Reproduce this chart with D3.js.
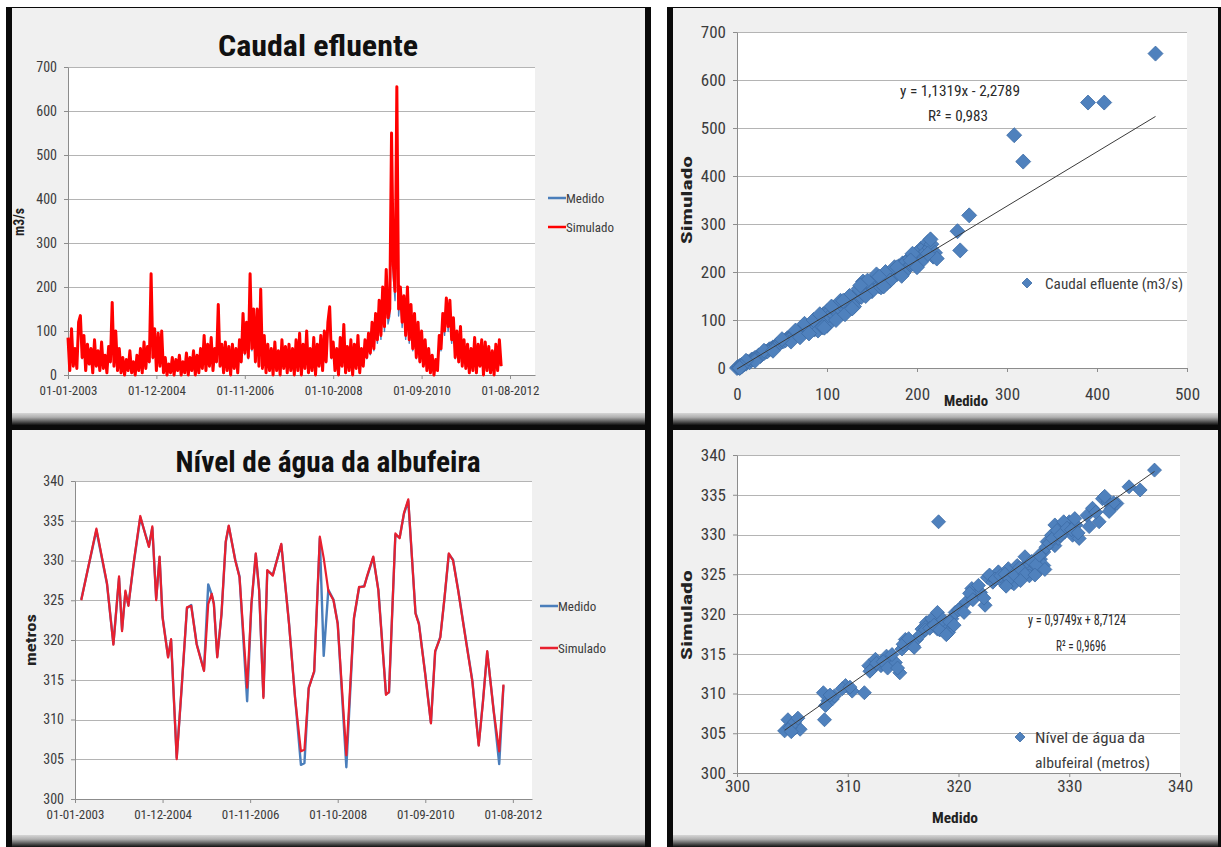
<!DOCTYPE html>
<html>
<head>
<meta charset="utf-8">
<script src="https://cdn.jsdelivr.net/npm/d3@7"></script>
<style>
  html, body { margin: 0; padding: 0; background: #ffffff; }
  svg { display: block; }
</style>
</head>
<body>
<svg id="fig" width="1221" height="847"></svg>
<script>
// ---------- Caudal efluente: série temporal (passo de 14 dias desde 01-01-2003) ----------
const caudalInicio = "2003-01-01";
const caudalPassoDias = 14;
const caudalSimulado = [
  85, 10, 105, 20, 60, 15, 120, 135, 40, 90,
  10, 70, 25, 60, 5, 80, 20, 55, 10, 75,
  15, 45, 5, 65, 30, 165, 20, 100, 10, 60,
  5, 40, 0, 35, 10, 55, 5, 30, 0, 45,
  10, 60, 5, 75, 15, 65, 30, 230, 40, 105,
  10, 95, 20, 100, 5, 40, 0, 25, 5, 40,
  0, 35, 10, 45, 0, 30, 5, 50, 0, 40,
  10, 55, 0, 45, 5, 60, 15, 90, 10, 70,
  20, 85, 10, 60, 30, 160, 20, 70, 5, 75,
  10, 65, 0, 70, 15, 60, 5, 80, 30, 140,
  50, 120, 40, 230, 60, 150, 30, 150, 20, 195,
  15, 90, 5, 70, 10, 60, 0, 75, 10, 55,
  0, 80, 15, 65, 5, 70, 10, 60, 0, 80,
  10, 95, 0, 70, 15, 100, 5, 60, 10, 85,
  0, 70, 20, 90, 10, 100, 30, 120, 155, 40,
  75, 10, 60, 0, 85, 20, 115, 5, 65, 10,
  80, 0, 70, 15, 90, 5, 60, 20, 80, 40,
  95, 50, 120, 60, 140, 80, 170, 90, 200, 110,
  240, 130, 150, 550, 250, 190, 655, 150, 200, 120,
  180, 90, 200, 80, 160, 60, 140, 40, 120, 30,
  100, 20, 80, 10, 60, 5, 45, 0, 35, 10,
  90, 60, 140, 100, 175, 110, 170, 80, 130, 40,
  100, 30, 110, 20, 80, 15, 70, 5, 60, 10,
  85, 5, 70, 20, 80, 0, 75, 10, 65, 5,
  55, 0, 70, 10, 80, 20
];
const caudalMedido = [
  77, 11, 95, 20, 55, 15, 108, 121, 37, 81,
  11, 64, 24, 55, 6, 72, 20, 50, 11, 68,
  15, 42, 6, 59, 28, 148, 20, 90, 11, 55,
  6, 37, 1, 33, 11, 50, 6, 28, 1, 42,
  11, 55, 6, 68, 15, 59, 28, 205, 37, 94,
  11, 86, 20, 90, 6, 37, 1, 24, 6, 37,
  1, 33, 11, 42, 1, 28, 6, 46, 1, 37,
  11, 50, 1, 42, 6, 55, 15, 81, 11, 64,
  20, 77, 11, 55, 28, 143, 20, 64, 6, 68,
  11, 59, 1, 64, 15, 55, 6, 72, 28, 125,
  46, 108, 37, 205, 55, 134, 28, 134, 20, 174,
  15, 81, 6, 64, 11, 55, 1, 68, 11, 50,
  1, 72, 15, 59, 6, 64, 11, 55, 1, 72,
  11, 86, 1, 64, 15, 90, 6, 55, 11, 77,
  1, 64, 20, 81, 11, 90, 28, 108, 138, 37,
  68, 11, 55, 1, 77, 20, 103, 6, 59, 11,
  72, 1, 64, 15, 81, 6, 55, 20, 72, 37,
  86, 46, 108, 55, 125, 72, 152, 81, 178, 99,
  213, 116, 134, 390, 222, 169, 465, 134, 178, 108,
  160, 81, 178, 72, 143, 55, 125, 37, 108, 28,
  90, 20, 72, 11, 55, 6, 42, 1, 33, 11,
  81, 55, 125, 90, 156, 99, 152, 72, 116, 37,
  90, 28, 99, 20, 72, 15, 64, 6, 55, 11,
  77, 6, 64, 20, 72, 1, 68, 11, 59, 6,
  50, 1, 64, 11, 72, 20
];

// ---------- Nível de água da albufeira: série temporal ----------
const nivelDatas = [
  "2003-02-20", "2003-06-21", "2003-09-14", "2003-11-04", "2003-12-19", "2004-01-12", "2004-02-08", "2004-03-03",
  "2004-04-13", "2004-06-06", "2004-07-17", "2004-08-14", "2004-09-10", "2004-10-11", "2004-11-07", "2004-12-01",
  "2005-01-14", "2005-02-07", "2005-03-24", "2005-05-04", "2005-06-14", "2005-07-18", "2005-08-31", "2005-10-28",
  "2005-12-01", "2005-12-29", "2006-01-15", "2006-02-11", "2006-03-17", "2006-04-20", "2006-05-14", "2006-07-05",
  "2006-08-08", "2006-10-08", "2006-11-11", "2006-12-16", "2007-01-12", "2007-02-15", "2007-03-18", "2007-05-01",
  "2007-07-08", "2007-09-08", "2007-10-26", "2007-12-12", "2008-01-09", "2008-02-12", "2008-03-27", "2008-05-11",
  "2008-06-11", "2008-07-18", "2008-08-28", "2008-10-01", "2008-12-09", "2009-02-08", "2009-03-21", "2009-05-01",
  "2009-05-21", "2009-07-12", "2009-08-22", "2009-10-22", "2009-11-15", "2010-01-05", "2010-02-08", "2010-03-15",
  "2010-04-18", "2010-06-15", "2010-07-12", "2010-09-01", "2010-10-16", "2010-11-19", "2010-12-30", "2011-02-02",
  "2011-03-08", "2011-04-11", "2011-05-22", "2011-07-23", "2011-09-12", "2011-11-02", "2011-12-06", "2012-01-09",
  "2012-03-01", "2012-04-14", "2012-05-18"
];
const nivelSimulado = [
  325.0, 334.0, 327.1, 319.4, 328.0, 321.1, 326.2, 324.3,
  329.6, 335.6, 333.2, 331.7, 334.3, 325.0, 330.5, 322.8,
  317.8, 320.1, 305.0, 314.4, 324.1, 324.3, 319.4, 316.1,
  324.5, 325.8, 324.5, 317.8, 323.3, 332.4, 334.4, 330.0,
  327.9, 314.0, 324.5, 330.9, 326.2, 312.7, 328.8, 328.1,
  332.1, 322.0, 312.7, 306.0, 306.2, 313.9, 316.1, 333.0,
  330.3, 326.2, 325.0, 322.0, 305.5, 322.8, 326.7, 326.7,
  327.9, 330.5, 326.2, 313.1, 313.5, 333.4, 332.8, 336.0,
  337.7, 323.3, 322.0, 315.6, 309.5, 318.6, 320.3, 325.4,
  330.9, 330.0, 326.2, 319.9, 314.8, 306.7, 312.2, 318.6,
  311.0, 306.0, 314.4
];
const nivelMedido = [
  325.1, 333.8, 327.0, 319.5, 327.8, 321.3, 326.0, 324.4,
  329.5, 335.4, 333.3, 331.8, 334.1, 325.2, 330.4, 322.9,
  317.9, 320.0, 305.2, 314.3, 324.0, 324.4, 319.5, 316.2,
  327.0, 325.7, 324.6, 317.9, 323.2, 332.3, 334.3, 330.1,
  328.0, 312.3, 324.4, 330.8, 326.3, 312.9, 328.7, 328.2,
  332.0, 322.1, 312.8, 304.3, 304.5, 314.0, 316.0, 332.8,
  318.0, 326.3, 325.1, 322.1, 304.0, 322.7, 326.6, 326.8,
  327.8, 330.4, 326.3, 313.2, 313.4, 333.2, 332.9, 335.9,
  337.5, 323.4, 322.1, 315.7, 309.6, 318.5, 320.4, 325.3,
  330.8, 330.1, 326.3, 320.0, 314.9, 306.8, 312.3, 318.5,
  311.1, 304.4, 314.3
];

// ---------- Dispersão: caudal efluente medido vs simulado (m3/s) ----------
const dispCaudalMedido = [
  0, 1, 2, 3, 4, 5, 6, 8, 10, 12, 14, 16, 18, 20, 22, 24, 26, 28, 30, 32,
  34, 36, 38, 40, 42, 44, 46, 48, 50, 52, 54, 56, 58, 60, 62, 64, 66, 68, 70, 72,
  74, 76, 78, 80, 82, 84, 86, 88, 90, 90, 92, 94, 96, 98, 100, 100, 102, 104, 106, 108,
  110, 112, 114, 116, 118, 120, 122, 124, 126, 128, 130, 132, 134, 136, 138, 140, 142, 144, 146, 148,
  150, 152, 154, 156, 158, 160, 162, 164, 166, 168, 170, 172, 174, 176, 178, 180, 182, 184, 186, 188,
  190, 192, 194, 196, 198, 200, 202, 204, 206, 208, 210, 212, 214, 216, 218, 220, 222,
  60, 65, 70, 75, 80, 85, 95, 105, 110, 115, 120, 125, 130, 135, 140, 145, 150, 155, 160, 165,
  170, 175, 185, 195, 205, 215, 212, 20, 30, 40, 50, 10, 5, 3,
  92, 97, 118, 128, 137, 143, 158, 163, 178, 183, 193, 200,
  245, 248, 258, 308, 318, 390, 408, 465
];
const dispCaudalSimulado = [
  0, 2, 1, 4, 2, 6, 5, 8, 9, 13, 12, 17, 18, 21, 22, 26, 25, 30, 31, 34,
  35, 39, 40, 43, 44, 48, 50, 52, 55, 56, 58, 62, 63, 66, 67, 70, 74, 72, 79, 78,
  80, 86, 83, 88, 92, 90, 80, 98, 100, 78, 104, 96, 112, 104, 118, 88, 110, 120, 114, 126,
  118, 130, 124, 136, 128, 140, 132, 144, 138, 146, 140, 150, 144, 160, 148, 170, 162, 176, 158, 172,
  180, 166, 178, 184, 170, 188, 180, 192, 176, 196, 188, 200, 190, 206, 196, 212, 200, 218, 204, 222,
  210, 228, 216, 234, 220, 240, 228, 248, 236, 252, 242, 262, 250, 258, 232, 240, 228,
  55, 78, 64, 92, 72, 100, 85, 128, 100, 140, 112, 150, 128, 165, 180, 182, 160, 195, 168, 200,
  182, 210, 198, 238, 222, 268, 238, 15, 36, 36, 60, 15, 3, 0,
  112, 84, 140, 124, 172, 150, 190, 170, 210, 192, 224, 210,
  285, 245, 318, 485, 430, 553, 553, 655
];
const regCaudal = { declive: 1.1319, ordenada: -2.2789, r2: "0,983" };

// ---------- Dispersão: nível de água medido vs simulado (metros) ----------
const dispNivelMedido = [
  304.3, 304.6, 305.0, 305.3, 305.7, 304.8, 307.8, 307.9, 308.2, 308.6,
  308.8, 309.8, 310.4, 311.5, 311.9, 312.2, 312.5, 313.0, 313.5, 313.8,
  314.3, 314.7, 314.9, 315.2, 315.9, 316.2, 316.7, 317.1, 317.6, 318.1,
  318.2, 318.4, 318.8, 319.1, 319.4, 319.7, 320.2, 320.7, 321.2, 321.5,
  322.0, 322.4, 322.6, 323.1, 323.6, 324.0, 324.5, 324.8, 325.3, 325.8,
  326.3, 326.8, 327.1, 327.4, 327.7, 328.0, 328.4, 328.7, 329.0, 329.3,
  329.6, 330.0, 330.3, 330.6, 330.9, 331.6, 332.1, 332.7, 333.0, 333.5,
  333.8, 334.3, 335.4, 336.4, 337.7, 327.7, 326.4, 328.7, 318.1, 325.0,
  326.0, 329.8, 317.0,
  305.2, 304.9, 305.5, 308.0, 308.4, 309.5, 310.2, 312.0, 312.6, 313.2,
  313.6, 314.0, 314.5, 315.0, 315.5, 316.0, 316.5, 317.0, 317.4, 317.8,
  318.3, 318.6, 318.9, 319.2, 319.6, 320.0, 320.5, 321.0, 321.3, 321.8,
  322.3, 322.8, 323.3, 323.8, 324.2, 324.6, 325.0, 325.5, 326.0, 326.6,
  327.0, 327.3, 327.9, 328.2, 328.5, 328.9, 329.2, 329.5, 329.8, 330.2,
  330.5, 330.8, 331.8, 332.4, 333.2, 334.0, 333.6, 327.8, 326.9, 325.6,
  324.3
];
const dispNivelSimulado = [
  305.3, 306.7, 306.1, 305.7, 305.5, 305.7, 310.1, 306.7, 309.1, 309.3,
  309.7, 311.0, 310.3, 310.1, 313.5, 313.1, 314.3, 313.5, 314.7, 314.3,
  313.9, 312.6, 315.6, 316.8, 316.0, 316.8, 318.1, 318.9, 319.4, 320.2,
  331.6, 318.9, 318.5, 317.7, 319.4, 320.2, 320.8, 321.5, 323.2, 322.3,
  322.7, 321.1, 324.6, 324.0, 325.3, 324.0, 325.7, 324.0, 326.1, 325.3,
  326.5, 325.7, 325.3, 326.9, 327.8, 329.1, 329.9, 328.6, 329.5, 331.2,
  330.3, 331.6, 329.9, 331.2, 329.5, 332.4, 333.3, 331.6, 334.5, 334.1,
  333.3, 333.9, 336.0, 335.6, 338.1, 326.1, 324.8, 331.2, 318.1, 323.8,
  327.2, 330.8, 318.3,
  306.4, 305.2, 306.9, 308.5, 309.8, 310.6, 310.8, 312.8, 313.8, 314.0,
  313.2, 314.9, 313.2, 316.2, 316.9, 315.8, 317.3, 318.0, 318.2, 318.6,
  318.0, 319.3, 317.4, 319.0, 318.6, 320.5, 320.2, 322.6, 321.8, 323.6,
  322.0, 324.9, 324.4, 324.8, 325.0, 324.4, 325.0, 325.8, 325.0, 326.6,
  326.2, 327.4, 328.4, 328.9, 329.5, 330.5, 329.9, 331.6, 330.8, 330.6,
  332.0, 330.2, 331.0, 332.8, 334.8, 334.0, 332.9, 325.6, 324.9, 324.2,
  323.5
];
const regNivel = { declive: 0.9749, ordenada: 8.7124, r2: "0,9696" };

// ---------- Rótulos ----------
const eixoDatasInicio = "2003-01-01";
const eixoDatasPasso = 700;            // dias entre marcas do eixo
const eixoDatasMarcas = 6;
const caudalTicks = [0, 100, 200, 300, 400, 500, 600, 700];
const nivelTicks = [300, 305, 310, 315, 320, 325, 330, 335, 340];
const dispCaudalXTicks = [0, 100, 200, 300, 400, 500];
const dispNivelXTicks = [300, 310, 320, 330, 340];
const nomesSeries = ["Medido", "Simulado"];

// ---------- Estilo ----------
const FONT = '"Liberation Sans Narrow", "Arial Narrow", "Roboto Condensed", sans-serif';
const AZUL = "#4a7ebb";
const VERMELHO = "#ff0000";
const VERMELHO2 = "#e8202f";
const GRELHA = "#b4b4b4";
const EIXO = "#8c8c8c";
const TEXTO = "#3c3c3c";

const svg = d3.select("#fig");
const parse = d3.timeParse("%Y-%m-%d");
const fmt = d3.timeFormat("%d-%m-%Y");

const ajustar = (sel, len) => sel.attr("textLength", len).attr("lengthAdjust", "spacingAndGlyphs");

// sombreado inferior de cada painel
const defs = svg.append("defs");
const grad = defs.append("linearGradient").attr("id", "sombra")
  .attr("x1", 0).attr("y1", 0).attr("x2", 0).attr("y2", 1);
grad.append("stop").attr("offset", 0).attr("stop-color", "#d6d6d6");
grad.append("stop").attr("offset", 0.35).attr("stop-color", "#b0b0b0");
grad.append("stop").attr("offset", 0.7).attr("stop-color", "#5a5a5a");
grad.append("stop").attr("offset", 1).attr("stop-color", "#111111");

// molduras pretas das duas colunas
svg.append("rect").attr("x", 6).attr("y", 7).attr("width", 645).attr("height", 840).attr("fill", "#0a0a0a");
svg.append("rect").attr("x", 667).attr("y", 7).attr("width", 554).attr("height", 840).attr("fill", "#0a0a0a");

function painel(x, y, w, h) {
  svg.append("rect").attr("x", x).attr("y", y).attr("width", w).attr("height", h - 12).attr("fill", "#f0f0f0");
  svg.append("rect").attr("x", x).attr("y", y + h - 12).attr("width", w).attr("height", 12).attr("fill", "url(#sombra)");
}
painel(12, 8, 633, 417);
painel(12, 430, 633, 417);
painel(673, 8, 545, 417);
painel(673, 430, 545, 417);

function areaGrafico(x0, y0, x1, y1) {
  svg.append("rect").attr("x", x0).attr("y", y0).attr("width", x1 - x0).attr("height", y1 - y0).attr("fill", "#ffffff");
}

function estilizarEixo(g, size) {
  g.select(".domain").attr("stroke", EIXO);
  g.selectAll(".tick line").attr("stroke", EIXO);
  g.selectAll(".tick text").attr("fill", TEXTO).style("font-family", FONT).style("font-size", size + "px");
}

function grelhaY(ticks, y, x0, x1) {
  svg.append("g").selectAll("line").data(ticks).join("line")
    .attr("x1", x0).attr("x2", x1)
    .attr("y1", d => Math.round(y(d)) + 0.5).attr("y2", d => Math.round(y(d)) + 0.5)
    .attr("stroke", GRELHA).attr("stroke-width", 1);
}

function titulo(txt, x, y, len) {
  const t = svg.append("text").attr("x", x).attr("y", y).attr("text-anchor", "middle")
    .style("font-family", FONT).style("font-size", "29px").style("font-weight", "bold")
    .attr("fill", "#111").text(txt);
  ajustar(t, len);
}

function tituloEixo(txt, x, y, rot, len, size) {
  const t = svg.append("text").attr("transform", `translate(${x},${y})` + (rot ? " rotate(-90)" : ""))
    .attr("text-anchor", "middle")
    .style("font-family", FONT).style("font-size", (size || 15) + "px").style("font-weight", "bold")
    .attr("fill", "#222").text(txt);
  if (len) ajustar(t, len);
}

function legendaLinhas(x, ys, cores) {
  nomesSeries.forEach((n, i) => {
    svg.append("line").attr("x1", x).attr("x2", x + 18).attr("y1", ys[i]).attr("y2", ys[i])
      .attr("stroke", cores[i]).attr("stroke-width", 2.5);
    svg.append("text").attr("x", x + 18).attr("y", ys[i] + 5)
      .style("font-family", FONT).style("font-size", "13px").attr("fill", TEXTO).text(n);
  });
}

const losango = r => `M0,${-r}L${r},0L0,${r}L${-r},0Z`;

const dataInicio = parse(eixoDatasInicio);
const marcasDatas = d3.range(eixoDatasMarcas).map(k => d3.timeDay.offset(dataInicio, eixoDatasPasso * k));

// ================= 1) Caudal efluente (série temporal) =================
{
  const x0 = 68, x1 = 535, yTop = 67, yBot = 375;
  areaGrafico(x0, yTop, x1, yBot);
  const x = d3.scaleTime().domain([dataInicio, parse("2013-02-15")]).range([x0, x1]);
  const y = d3.scaleLinear().domain([0, 700]).range([yBot, yTop]);
  grelhaY(caudalTicks.slice(1), y, x0, x1);

  const gx = svg.append("g").attr("transform", `translate(0,${yBot})`)
    .call(d3.axisBottom(x).tickValues(marcasDatas).tickFormat(fmt).tickSize(4).tickSizeOuter(0).tickPadding(7));
  estilizarEixo(gx, 13);
  const gy = svg.append("g").attr("transform", `translate(${x0},0)`)
    .call(d3.axisLeft(y).tickValues(caudalTicks).tickSize(4).tickSizeOuter(0).tickPadding(7));
  estilizarEixo(gy, 14);

  const t0 = parse(caudalInicio);
  const pts = (arr) => arr.map((v, i) => [x(d3.timeDay.offset(t0, caudalPassoDias * i)), y(v)]);
  const line = d3.line();
  svg.append("path").attr("d", line(pts(caudalMedido))).attr("fill", "none")
    .attr("stroke", AZUL).attr("stroke-width", 1.4).attr("stroke-linejoin", "round");
  svg.append("path").attr("d", line(pts(caudalSimulado))).attr("fill", "none")
    .attr("stroke", VERMELHO).attr("stroke-width", 3).attr("stroke-linejoin", "round");

  titulo("Caudal efluente", 318, 56, 200);
  tituloEixo("m3/s", 24, 222, true, 28);
  legendaLinhas(548, [198, 227], [AZUL, VERMELHO]);
}

// ================= 2) Nível de água (série temporal) =================
{
  const x0 = 75, x1 = 532, yTop = 481, yBot = 799;
  areaGrafico(x0, yTop, x1, yBot);
  const x = d3.scaleTime().domain([dataInicio, parse("2013-01-01")]).range([x0, x1]);
  const y = d3.scaleLinear().domain([300, 340]).range([yBot, yTop]);
  grelhaY(nivelTicks.slice(1), y, x0, x1);

  const gx = svg.append("g").attr("transform", `translate(0,${yBot})`)
    .call(d3.axisBottom(x).tickValues(marcasDatas).tickFormat(fmt).tickSize(4).tickSizeOuter(0).tickPadding(7));
  estilizarEixo(gx, 13);
  const gy = svg.append("g").attr("transform", `translate(${x0},0)`)
    .call(d3.axisLeft(y).tickValues(nivelTicks).tickSize(4).tickSizeOuter(0).tickPadding(7));
  estilizarEixo(gy, 14);

  const datas = nivelDatas.map(parse);
  const line = d3.line().x((d, i) => x(datas[i])).y(d => y(d));
  svg.append("path").attr("d", line(nivelMedido)).attr("fill", "none")
    .attr("stroke", AZUL).attr("stroke-width", 2.4).attr("stroke-linejoin", "round");
  svg.append("path").attr("d", line(nivelSimulado)).attr("fill", "none")
    .attr("stroke", VERMELHO2).attr("stroke-width", 2.2).attr("stroke-linejoin", "round");

  titulo("Nível de água da albufeira", 328, 472, 305);
  tituloEixo("metros", 36, 640, true, 52);
  legendaLinhas(540, [606, 648], [AZUL, VERMELHO2]);
}

// ================= 3) Dispersão caudal =================
{
  const x0 = 737, x1 = 1187, yTop = 32, yBot = 368;
  areaGrafico(x0, yTop, x1, yBot);
  const x = d3.scaleLinear().domain([0, 500]).range([x0, x1]);
  const y = d3.scaleLinear().domain([0, 700]).range([yBot, yTop]);
  grelhaY(caudalTicks.slice(1), y, x0, x1);

  const gx = svg.append("g").attr("transform", `translate(0,${yBot})`)
    .call(d3.axisBottom(x).tickValues(dispCaudalXTicks).tickSize(4).tickSizeOuter(0).tickPadding(16));
  estilizarEixo(gx, 17);
  const gy = svg.append("g").attr("transform", `translate(${x0},0)`)
    .call(d3.axisLeft(y).tickValues(caudalTicks).tickSize(4).tickSizeOuter(0).tickPadding(7));
  estilizarEixo(gy, 17);

  svg.append("g").selectAll("path").data(dispCaudalMedido).join("path")
    .attr("transform", (d, i) => `translate(${x(d)},${y(dispCaudalSimulado[i])})`)
    .attr("d", losango(7.5)).attr("fill", "#4f81bd").attr("stroke", "#3d6ca6").attr("stroke-width", 0.8);

  const xr = [0, d3.max(dispCaudalMedido)];
  svg.append("line")
    .attr("x1", x(xr[0])).attr("y1", y(regCaudal.declive * xr[0] + regCaudal.ordenada))
    .attr("x2", x(xr[1])).attr("y2", y(regCaudal.declive * xr[1] + regCaudal.ordenada))
    .attr("stroke", "#3a3a3a").attr("stroke-width", 1);

  const eq = svg.append("g").style("font-family", FONT).style("font-size", "15px").attr("fill", "#2a2a2a");
  ajustar(eq.append("text").attr("x", 960).attr("y", 96).attr("text-anchor", "middle")
    .text(`y = ${String(regCaudal.declive).replace(".", ",")}x - ${String(-regCaudal.ordenada).replace(".", ",")}`), 120);
  ajustar(eq.append("text").attr("x", 958).attr("y", 121).attr("text-anchor", "middle").text(`R² = ${regCaudal.r2}`), 60);

  svg.append("path").attr("transform", "translate(1027,283)").attr("d", losango(5))
    .attr("fill", "#4f81bd").attr("stroke", "#3d6ca6").attr("stroke-width", 0.8);
  ajustar(svg.append("text").attr("x", 1045).attr("y", 289).style("font-family", FONT).style("font-size", "15px")
    .attr("fill", TEXTO).text("Caudal efluente (m3/s)"), 138);

  tituloEixo("Medido", 966, 406, false, 44);
  tituloEixo("Simulado", 692, 200, true, 88);
}

// ================= 4) Dispersão nível =================
{
  const x0 = 737, x1 = 1180, yTop = 455, yBot = 773;
  areaGrafico(x0, yTop, x1, yBot);
  const x = d3.scaleLinear().domain([300, 340]).range([x0, x1]);
  const y = d3.scaleLinear().domain([300, 340]).range([yBot, yTop]);
  grelhaY(nivelTicks.slice(1), y, x0, x1);

  const gx = svg.append("g").attr("transform", `translate(0,${yBot})`)
    .call(d3.axisBottom(x).tickValues(dispNivelXTicks).tickSize(4).tickSizeOuter(0).tickPadding(3));
  estilizarEixo(gx, 17);
  const gy = svg.append("g").attr("transform", `translate(${x0},0)`)
    .call(d3.axisLeft(y).tickValues(nivelTicks).tickSize(4).tickSizeOuter(0).tickPadding(7));
  estilizarEixo(gy, 17);

  svg.append("g").selectAll("path").data(dispNivelMedido).join("path")
    .attr("transform", (d, i) => `translate(${x(d)},${y(dispNivelSimulado[i])})`)
    .attr("d", losango(7)).attr("fill", "#4f81bd").attr("stroke", "#3d6ca6").attr("stroke-width", 0.8);

  const xr = d3.extent(dispNivelMedido);
  svg.append("line")
    .attr("x1", x(xr[0])).attr("y1", y(regNivel.declive * xr[0] + regNivel.ordenada))
    .attr("x2", x(xr[1])).attr("y2", y(regNivel.declive * xr[1] + regNivel.ordenada))
    .attr("stroke", "#3a3a3a").attr("stroke-width", 1);

  const eq = svg.append("g").style("font-family", FONT).style("font-size", "15px").attr("fill", "#2a2a2a");
  ajustar(eq.append("text").attr("x", 1077).attr("y", 625).attr("text-anchor", "middle")
    .text(`y = ${String(regNivel.declive).replace(".", ",")}x + ${String(regNivel.ordenada).replace(".", ",")}`), 98);
  ajustar(eq.append("text").attr("x", 1081).attr("y", 651).attr("text-anchor", "middle").text(`R² = ${regNivel.r2}`), 50);

  svg.append("path").attr("transform", "translate(1020,737)").attr("d", losango(5))
    .attr("fill", "#4f81bd").attr("stroke", "#3d6ca6").attr("stroke-width", 0.8);
  const lg = svg.append("text").style("font-family", FONT).style("font-size", "15px").attr("fill", TEXTO);
  ajustar(lg.append("tspan").attr("x", 1035).attr("y", 743).text("Nível de água da"), 110);
  ajustar(lg.append("tspan").attr("x", 1035).attr("y", 768).text("albufeiral (metros)"), 115);

  tituloEixo("Medido", 955, 823, false, 46);
  tituloEixo("Simulado", 692, 615, true, 90);
}
</script>
</body>
</html>
